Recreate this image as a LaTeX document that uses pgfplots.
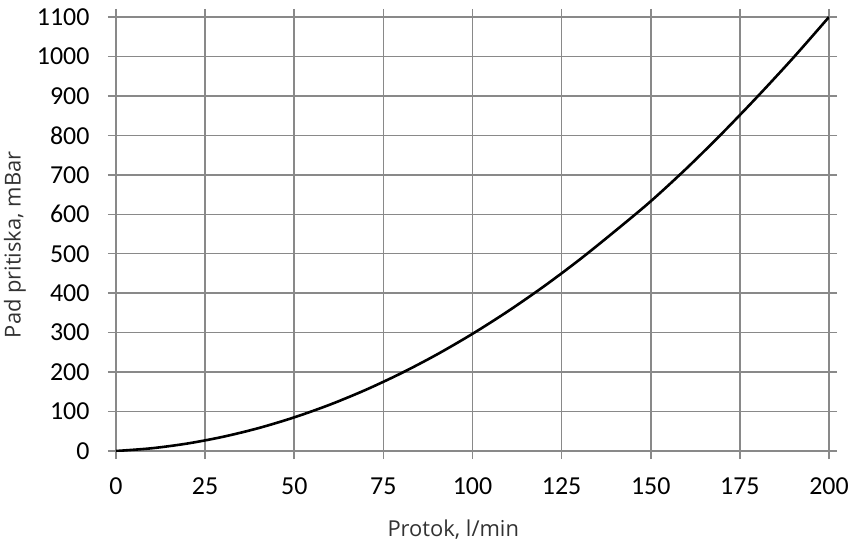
\documentclass[border=0pt]{standalone}
\usepackage{fontspec}
\usepackage{pgfplots}
\pgfplotsset{compat=1.18}
\newfontfamily\tickfont{Carlito}
\newfontfamily\labfont{Open Sans}
\definecolor{gridgray}{RGB}{137,137,137}
\definecolor{labgray}{RGB}{50,50,50}
\begin{document}
\begin{tikzpicture}
\path[use as bounding box] (-116bp,-92bp) rectangle (741bp,451bp);
\begin{axis}[
  at={(0,0)}, anchor=south west,
  scale only axis, width=713bp, height=434bp,
  xmin=0, xmax=200, ymin=0, ymax=1100,
  xtick={0,25,...,200}, ytick={0,100,...,1100},
  grid=major,
  major grid style={gridgray, line width=1.5bp},
  axis line style={gridgray, line width=1.5bp},
  tick style={gridgray, line width=1.5bp},
  tick align=outside, major tick length=8bp,
  /pgf/number format/assume math mode=true,
  /pgf/number format/set thousands separator={},
  ticklabel style={font=\tickfont\fontsize{26}{30}\selectfont, text=black},
  xticklabel style={yshift=-15bp},
  yticklabel style={xshift=-15bp},
  xlabel={Protok, l/min},
  ylabel={Pad pritiska, mBar},
  xlabel style={font=\labfont\fontsize{22}{26}\selectfont, text=labgray, at={([yshift=-79bp]axis description cs:0.473,0)}, anchor=center},
  ylabel style={font=\labfont\fontsize{22}{26}\selectfont, text=labgray, at={([xshift=-101bp]axis description cs:0,0.475)}, anchor=center},
]
\addplot[black, line width=2.6bp, smooth] coordinates {
(0,0) (10,6.93) (20,18.92) (30,35.97) (40,58.08) (50,85.25) (60,117.48)
(70,154.77) (80,197.12) (90,244.53) (100,297) (110,354.53) (120,417.12)
(130,484.77) (140,557.48) (150,633) (160,716) (170,805) (180,898.9)
(190,996.9) (200,1100)
};
\end{axis}
\end{tikzpicture}
\end{document}
